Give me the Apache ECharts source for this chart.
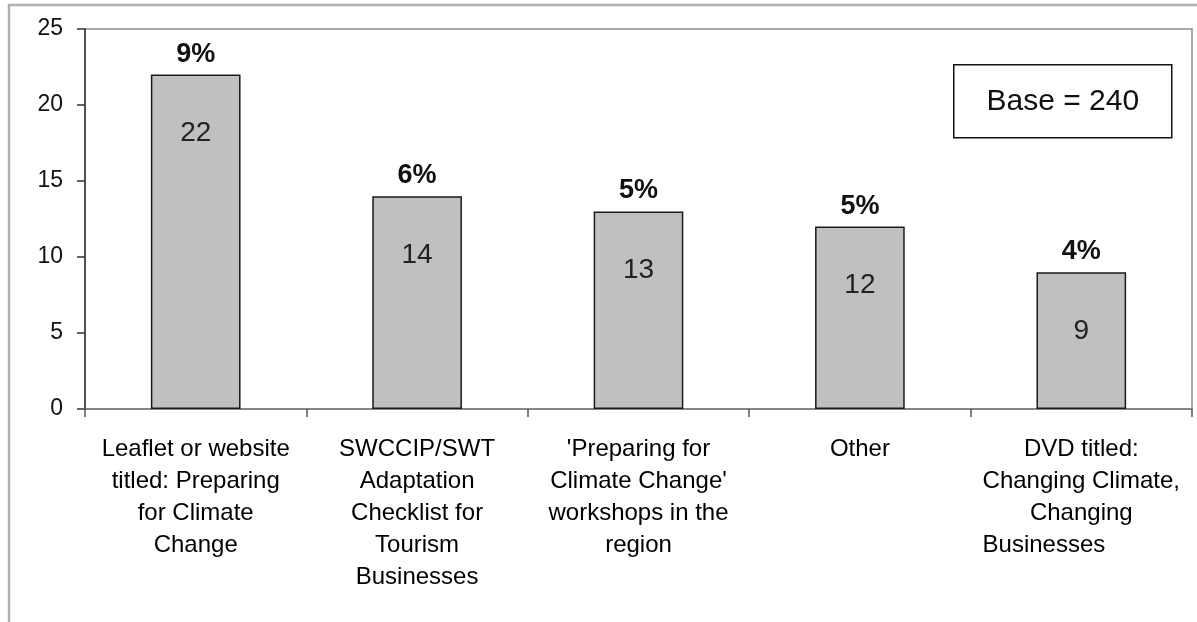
<!DOCTYPE html>
<html>
<head>
<meta charset="utf-8">
<script src="https://cdn.jsdelivr.net/npm/echarts@6/dist/echarts.min.js"></script>
<style>
  html, body { margin: 0; padding: 0; background: #fff; }
  #chart { width: 1197px; height: 622px; }
</style>
</head>
<body>
<div id="chart"></div>
<script>
// Sources of climate-change guidance used by respondents
const categories = [
  "Leaflet or website\ntitled: Preparing\nfor Climate\nChange",
  "SWCCIP/SWT\nAdaptation\nChecklist for\nTourism\nBusinesses",
  "'Preparing for\nClimate Change'\nworkshops in the\nregion",
  "Other",
  "DVD titled:\nChanging Climate,\nChanging\n{l|Businesses}"
];
const counts = [22, 14, 13, 12, 9];
const percents = [9, 6, 5, 5, 4];
const yTicks = { min: 0, max: 25, interval: 5 };
const baseNote = "Base = 240";

const FONT = "'Liberation Sans', Arial, sans-serif";
const chart = echarts.init(document.getElementById('chart'), null, { renderer: 'canvas' });

chart.setOption({
  backgroundColor: '#ffffff',
  animation: false,
  textStyle: { fontFamily: FONT, color: '#000' },
  grid: {
    left: 85, right: 5, top: 29, bottom: 213,
    show: true, borderColor: '#8c8c8c', borderWidth: 1.5, backgroundColor: '#fff'
  },
  xAxis: {
    type: 'category',
    data: categories,
    axisLine: { lineStyle: { color: '#7a7a7a', width: 1.5 } },
    axisTick: { show: true, length: 8, lineStyle: { color: '#555', width: 1.5 } },
    axisLabel: {
      interval: 0, margin: 24, color: '#000', fontSize: 24, lineHeight: 32,
      fontFamily: FONT, align: 'center',
      rich: { l: { align: 'left', fontSize: 24, lineHeight: 32, fontFamily: FONT, color: '#000' } }
    }
  },
  yAxis: {
    type: 'value',
    min: yTicks.min, max: yTicks.max, interval: yTicks.interval,
    splitLine: { show: false },
    axisLine: { show: true, lineStyle: { color: '#333', width: 1.5 } },
    axisTick: { show: true, length: 8, lineStyle: { color: '#333', width: 1.5 } },
    axisLabel: { color: '#111', fontSize: 23, margin: 22, fontFamily: FONT }
  },
  series: [
    {
      type: 'bar',
      data: counts,
      barWidth: '40.5%',
      itemStyle: { color: '#c0c0c0', borderColor: '#1a1a1a', borderWidth: 1.5 },
      label: {
        show: true, position: 'insideTop', distance: 45,
        color: '#222', fontSize: 28, fontFamily: FONT
      },
      z: 2
    },
    {
      // transparent twin carrying the share-of-base labels above each bar
      type: 'bar',
      data: counts,
      barWidth: '40.5%',
      barGap: '-100%',
      silent: true,
      itemStyle: { color: 'rgba(0,0,0,0)' },
      label: {
        show: true, position: 'top', distance: 7,
        color: '#111', fontSize: 27, fontWeight: 'bold', fontFamily: FONT,
        formatter: p => percents[p.dataIndex] + '%'
      },
      z: 3
    }
  ],
  graphic: [
    {
      type: 'rect', silent: true, z: -1,
      shape: { x: 9, y: 5, width: 1200, height: 640 },
      style: { fill: 'none', stroke: '#b0b0b0', lineWidth: 2.5 }
    },
    {
      type: 'group', left: 953, top: 64, z: 10,
      children: [
        { type: 'rect', shape: { x: 0, y: 0, width: 218, height: 73 },
          style: { fill: '#fff', stroke: '#111', lineWidth: 1.5 } },
        { type: 'text', x: 109, y: 37,
          style: { text: baseNote, fontSize: 30, fontFamily: FONT, fill: '#111',
                   textAlign: 'center', textVerticalAlign: 'middle' } }
      ]
    }
  ]
});
</script>
</body>
</html>
